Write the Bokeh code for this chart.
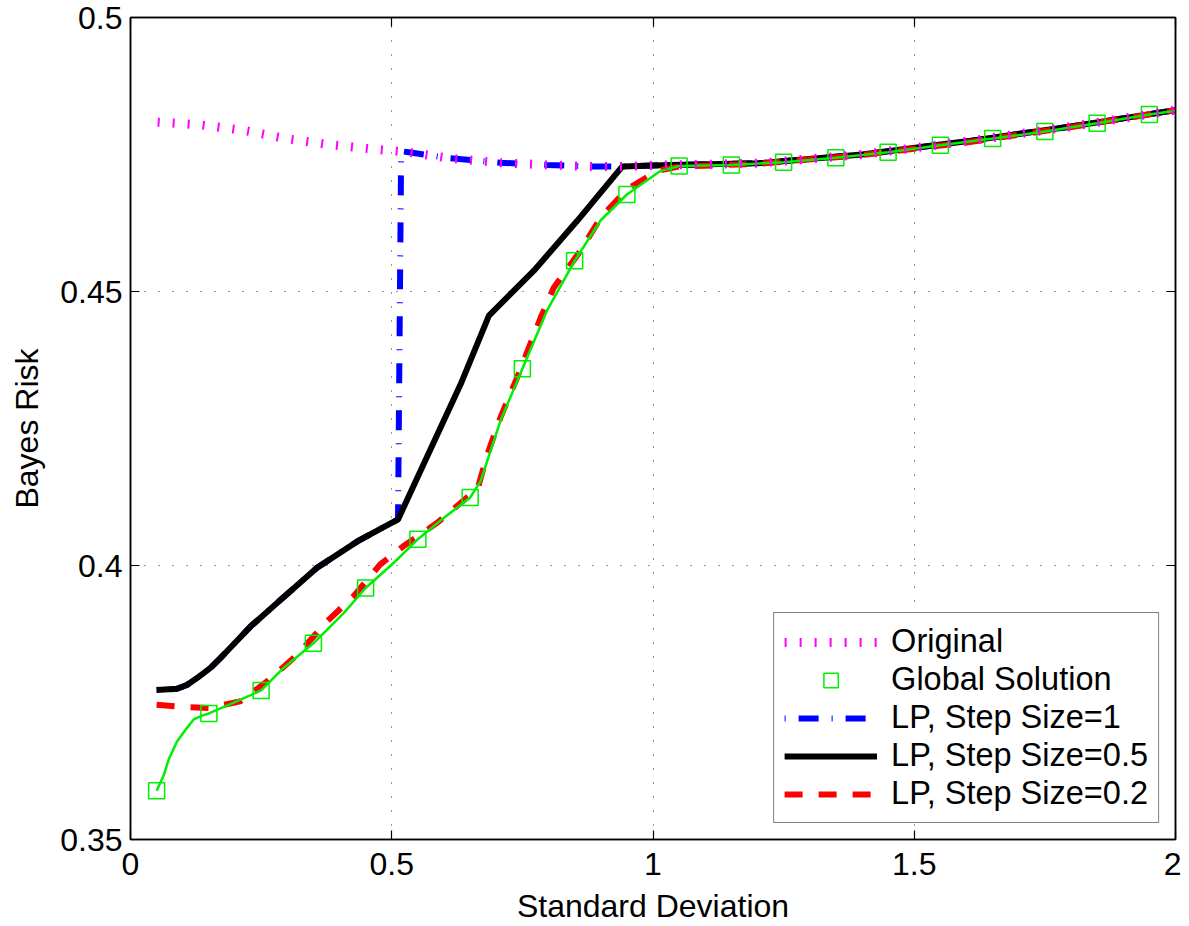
from bokeh.plotting import figure
from bokeh.models import (Range1d, FixedTicker, NumeralTickFormatter, LinearAxis, Legend, LegendItem)
from bokeh.embed import file_html
from bokeh.resources import INLINE

# ---------------- data ----------------
orig_x = [0.052, 0.135, 0.217, 0.298, 0.380, 0.463, 0.533, 0.612, 0.708, 0.797, 0.887, 0.941,
          1.033, 1.2, 1.4, 1.6, 1.8, 2.0]
orig_y = [0.4809, 0.4804, 0.4794, 0.4779, 0.4768, 0.4760, 0.4754, 0.4743, 0.4735, 0.4731, 0.4728, 0.4728,
          0.4731, 0.4734, 0.4750, 0.4774, 0.4801, 0.4831]

glob_x = [0.05, 0.15, 0.25, 0.35, 0.45, 0.55, 0.65, 0.75, 0.85, 0.95,
          1.05, 1.15, 1.25, 1.35, 1.45, 1.55, 1.65, 1.75, 1.85, 1.95]
glob_y = [0.3589, 0.3730, 0.3772, 0.3858, 0.3959, 0.4048, 0.4124, 0.4359, 0.4556, 0.4677,
          0.4729, 0.4731, 0.4736, 0.4744, 0.4754, 0.4767, 0.4779, 0.4792, 0.4807, 0.4823]

curve_x = [0.050, 0.064, 0.073, 0.089, 0.105, 0.121, 0.137, 0.150, 0.201, 0.250, 0.293, 0.350, 0.408,
           0.450, 0.504, 0.550, 0.600, 0.650, 0.670, 0.708, 0.750, 0.797, 0.850, 0.900, 0.950, 1.014,
           1.050, 1.150, 1.250, 1.350, 1.450, 1.550, 1.650, 1.750, 1.850, 1.950, 2.000]
curve_y = [0.3589, 0.3618, 0.3646, 0.3679, 0.3700, 0.3719, 0.3726, 0.3730, 0.3751, 0.3772, 0.3813, 0.3858,
           0.3913, 0.3959, 0.4005, 0.4048, 0.4087, 0.4124, 0.4154, 0.4264, 0.4359, 0.4465, 0.4556, 0.4630,
           0.4677, 0.4720, 0.4729, 0.4731, 0.4736, 0.4744, 0.4754, 0.4767, 0.4779, 0.4792, 0.4807, 0.4823,
           0.4830]

lp1_x = [0.050, 0.089, 0.108, 0.128, 0.153, 0.172, 0.191, 0.230, 0.281, 0.357, 0.434, 0.512, 0.518,
         0.533, 0.612, 0.708, 0.797, 0.887, 0.941, 1.033, 1.2, 1.4, 1.6, 1.8, 2.0]
lp1_y = [0.3773, 0.3775, 0.3782, 0.3795, 0.3813, 0.3831, 0.3850, 0.3889, 0.3932, 0.3996, 0.4044, 0.4084,
         0.4756, 0.4754, 0.4743, 0.4735, 0.4731, 0.4728, 0.4728, 0.4731, 0.4734, 0.4750, 0.4774, 0.4801,
         0.4831]

lp05_x = [0.050, 0.089, 0.108, 0.128, 0.153, 0.172, 0.191, 0.230, 0.281, 0.357, 0.434, 0.512, 0.632,
          0.686, 0.772, 0.855, 0.941, 1.033, 1.2, 1.4, 1.6, 1.8, 2.0]
lp05_y = [0.3773, 0.3775, 0.3782, 0.3795, 0.3813, 0.3831, 0.3850, 0.3889, 0.3932, 0.3996, 0.4044, 0.4084,
          0.4331, 0.4456, 0.4538, 0.4629, 0.4728, 0.4731, 0.4734, 0.4750, 0.4774, 0.4801, 0.4831]

lp02_x = [0.050, 0.100, 0.150, 0.210, 0.262, 0.319, 0.376, 0.427, 0.478, 0.522, 0.587, 0.644,
          0.664, 0.683, 0.708, 0.740, 0.785, 0.810, 0.861, 0.900, 0.951, 1.008, 1.050,
          1.2, 1.4, 1.6, 1.8, 2.0]
lp02_y = [0.3746, 0.3742, 0.3740, 0.3752, 0.3789, 0.3837, 0.3898, 0.3944, 0.4002, 0.4035, 0.4078, 0.4124,
          0.4139, 0.4203, 0.4270, 0.4343, 0.4452, 0.4507, 0.4574, 0.4635, 0.4687, 0.4720, 0.4728,
          0.4733, 0.4749, 0.4772, 0.4800, 0.4831]

x_ticks = [0, 0.5, 1, 1.5, 2]
y_ticks = [0.35, 0.4, 0.45, 0.5]
x_title = "Standard Deviation"
y_title = "Bayes Risk"

FONT = "Liberation Sans"
FS = "32px"

p = figure(width=1181, height=926, output_backend="svg", toolbar_location=None,
           x_range=Range1d(0, 2), y_range=Range1d(0.35, 0.5),
           min_border_left=130, min_border_right=6, min_border_top=17, min_border_bottom=80)
p.background_fill_color = "white"
p.border_fill_color = "white"
p.outline_line_color = "black"
p.outline_line_width = 1.5

for ax, ticks in ((p.xaxis[0], x_ticks), (p.yaxis[0], y_ticks)):
    ax.ticker = FixedTicker(ticks=ticks)
    ax.formatter = NumeralTickFormatter(format="0.[00]")
    ax.major_tick_in = 9
    ax.major_tick_out = 0
    ax.minor_tick_line_color = None
    ax.axis_line_width = 1.5
    ax.major_tick_line_width = 1.2
    ax.major_label_text_font = FONT
    ax.major_label_text_font_size = FS
    ax.major_label_text_color = "black"
    ax.axis_label_text_font = FONT
    ax.axis_label_text_font_size = FS
    ax.axis_label_text_font_style = "normal"
    ax.axis_label_text_color = "black"

p.xaxis.axis_label = x_title
p.yaxis.axis_label = y_title
p.xaxis.major_label_standoff = 13
p.xaxis.axis_label_standoff = 10
p.yaxis.major_label_standoff = 8
p.yaxis.axis_label_standoff = 12

for loc, ticks in (("right", y_ticks), ("above", x_ticks)):
    a = LinearAxis(ticker=FixedTicker(ticks=ticks), major_tick_in=9, major_tick_out=0,
                   minor_tick_line_color=None, major_label_text_font_size="1px",
                   major_label_text_color=None,
                   major_label_standoff=0, axis_line_width=1.5, major_tick_line_width=1.2)
    p.add_layout(a, loc)

p.xgrid.ticker = FixedTicker(ticks=x_ticks)
p.ygrid.ticker = FixedTicker(ticks=y_ticks)
p.grid.grid_line_color = "black"
p.grid.grid_line_alpha = 0.8
p.grid.grid_line_width = 1
p.grid.grid_line_dash = "1 13"

r_lp1 = p.line(lp1_x, lp1_y, line_color="blue", line_width=6, line_dash="20 13 1 13",
               line_dash_offset=33, line_cap="butt")
r_lp05 = p.line(lp05_x, lp05_y, line_color="black", line_width=6)
r_lp02 = p.line(lp02_x, lp02_y, line_color="red", line_width=6, line_dash="18 16")
p.line(curve_x, curve_y, line_color="#00ee00", line_width=2.5)
r_glob = p.scatter(glob_x, glob_y, marker="square", size=16, fill_color=None,
                   line_color="#00ee00", line_width=1.5)
r_orig = p.line(orig_x, orig_y, line_color="magenta", line_width=9, line_dash="2 13")

legend = Legend(items=[
    LegendItem(label="Original", renderers=[r_orig]),
    LegendItem(label="Global Solution", renderers=[r_glob]),
    LegendItem(label="LP, Step Size=1", renderers=[r_lp1]),
    LegendItem(label="LP, Step Size=0.5", renderers=[r_lp05]),
    LegendItem(label="LP, Step Size=0.2", renderers=[r_lp02]),
], location="bottom_right")
legend.margin = 16
legend.padding = 10
legend.spacing = 1
legend.glyph_width = 93
legend.glyph_height = 36
legend.label_height = 36
legend.label_standoff = 14
legend.label_text_font = FONT
legend.label_text_font_size = "32.5px"
legend.label_text_color = "black"
legend.border_line_color = "black"
legend.border_line_width = 1.5
legend.background_fill_color = "white"
legend.background_fill_alpha = 1
p.add_layout(legend, "center")

open("out.html", "w").write(file_html(p, INLINE))
